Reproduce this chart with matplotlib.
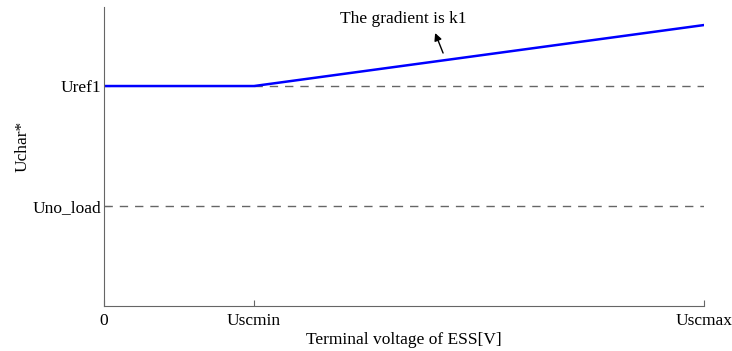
import numpy as np
import matplotlib.pyplot as plt

plt.rcParams["font.family"] = ["Liberation Serif", "DejaVu Serif"]

# characteristic: flat at Uref1 up to Uscmin, then rising with gradient k1
x_pts = [0.0, 1.0, 4.0]
y_pts = [2.2, 2.2, 2.81]
x_ticks = [0.0, 1.0, 4.0]
x_labels = ["0", "Uscmin", "Uscmax"]
y_ticks = [1.0, 2.2]
y_labels = ["Uno_load", "Uref1"]
u_ref1 = 2.2
u_no_load = 1.0

FS = 12.5

fig = plt.figure(figsize=(7.32, 3.51), dpi=100)
ax = fig.add_axes([0.142, 0.128, 0.820, 0.852])

ax.plot([1.0, 4.0], [u_ref1, u_ref1], color="#666666", lw=1.0, ls=(0, (6, 5)))
ax.plot([0.0, 4.0], [u_no_load, u_no_load], color="#666666", lw=1.0, ls=(0, (6, 5)))
ax.plot(x_pts, y_pts, color="#0000ff", lw=1.8, solid_capstyle="butt")

# slope note with a small arrow
ax.annotate("", xy=(2.207, 2.73), xytext=(2.26, 2.53), textcoords="data",
            arrowprops=dict(arrowstyle="-|>", color="black", lw=1.0,
                            mutation_scale=11, shrinkA=0, shrinkB=0))
ax.text(1.993, 2.87, "The gradient is k1", fontsize=FS, ha="center", va="center")

ax.set_xlim(0, 4.0)
ax.set_ylim(0, 2.99)
ax.set_xticks(x_ticks)
ax.set_xticklabels(x_labels, fontsize=FS)
ax.set_yticks(y_ticks)
ax.set_yticklabels(y_labels, fontsize=FS)
ax.tick_params(axis="x", direction="in", length=4, color="#666666", pad=5)
ax.tick_params(axis="y", direction="in", length=4, color="#666666", pad=2)

for s in ["top", "right"]:
    ax.spines[s].set_visible(False)
for s in ["left", "bottom"]:
    ax.spines[s].set_color("#666666")

ax.set_xlabel("Terminal voltage of ESS[V]", fontsize=FS, labelpad=2)
ax.set_ylabel("Uchar*", fontsize=FS)
ax.yaxis.set_label_coords(-0.123, 0.535)

fig.savefig("out.png", dpi=100)
